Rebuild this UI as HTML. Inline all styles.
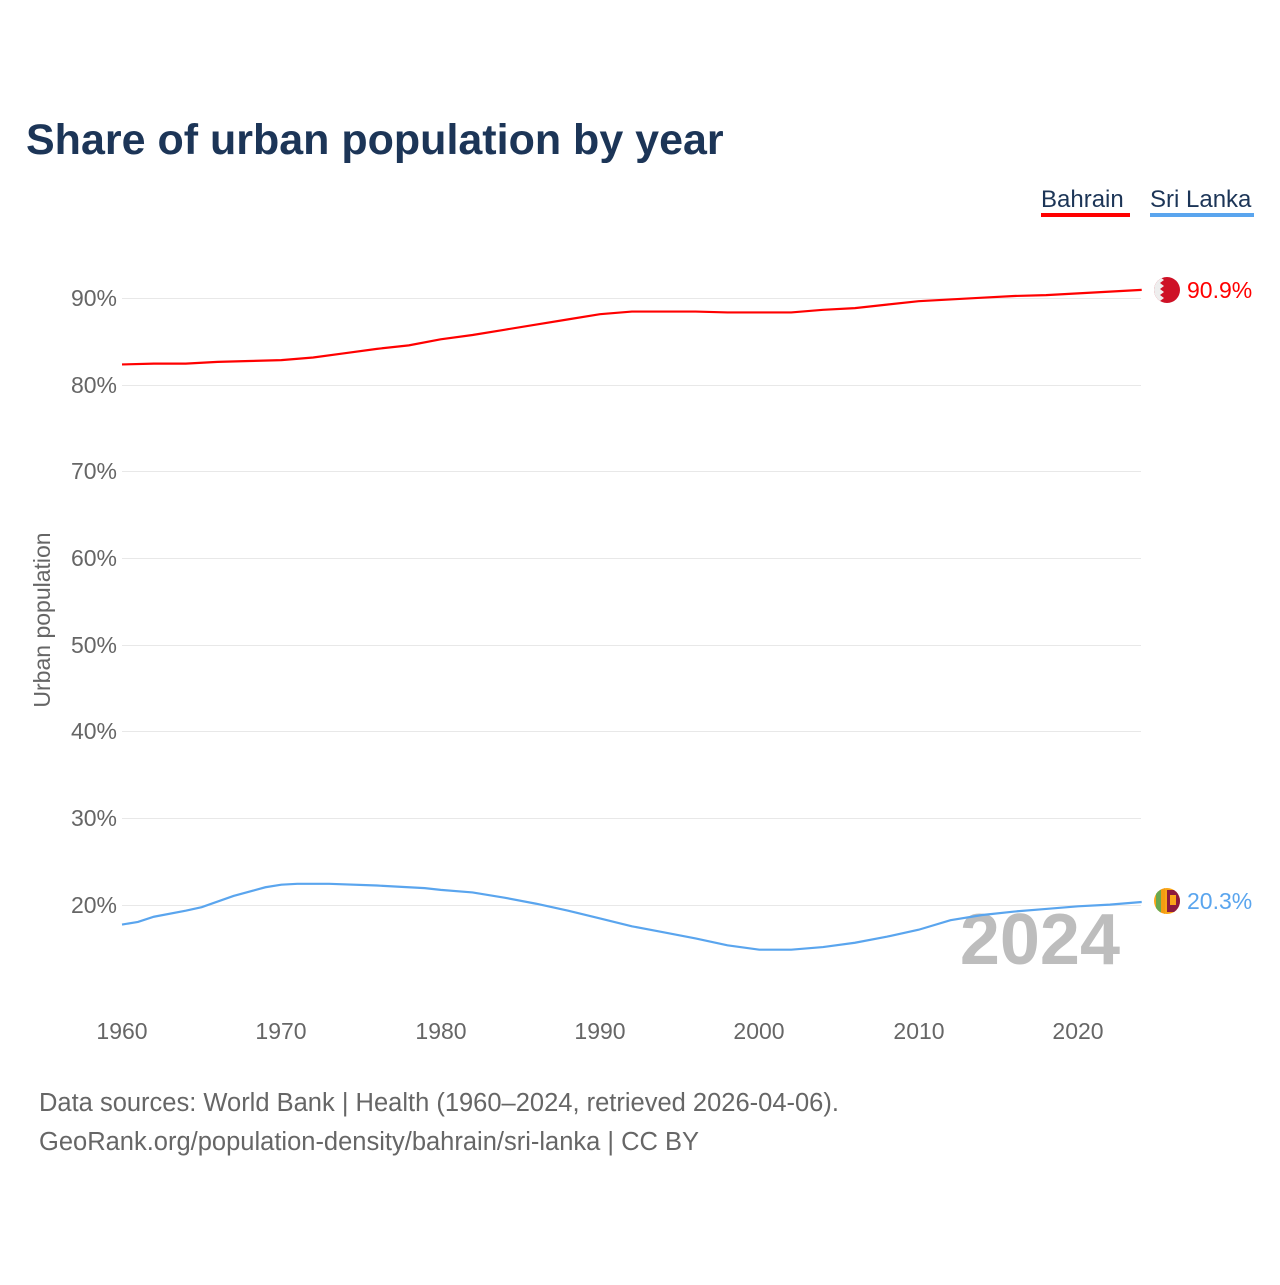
<!DOCTYPE html>
<html><head><meta charset="utf-8"><style>
body{margin:0;background:#fff;width:1280px;height:1280px;overflow:hidden;font-family:"Liberation Sans",sans-serif}
</style></head><body>
<svg width="1280" height="1280" xmlns="http://www.w3.org/2000/svg" font-family="Liberation Sans, sans-serif">
<text x="26" y="154" font-size="43" font-weight="bold" fill="#1c3557">Share of urban population by year</text>
<text x="1041" y="207" font-size="24" fill="#1c3557">Bahrain</text>
<rect x="1041" y="213" width="89" height="4" fill="#f00"/>
<text x="1150" y="207" font-size="24" fill="#1c3557">Sri Lanka</text>
<rect x="1150" y="213" width="104" height="4" fill="#5aa5ee"/>
<g stroke="#e8e8e8" stroke-width="1">
<line x1="122" x2="1141" y1="298.5" y2="298.5"/><line x1="122" x2="1141" y1="385.5" y2="385.5"/>
<line x1="122" x2="1141" y1="471.5" y2="471.5"/><line x1="122" x2="1141" y1="558.5" y2="558.5"/>
<line x1="122" x2="1141" y1="645.5" y2="645.5"/><line x1="122" x2="1141" y1="731.5" y2="731.5"/>
<line x1="122" x2="1141" y1="818.5" y2="818.5"/><line x1="122" x2="1141" y1="905.5" y2="905.5"/>
</g>
<g font-size="23" fill="#666" text-anchor="end">
<text x="117" y="306">90%</text><text x="117" y="393">80%</text><text x="117" y="479">70%</text>
<text x="117" y="566">60%</text><text x="117" y="653">50%</text><text x="117" y="739">40%</text>
<text x="117" y="826">30%</text><text x="117" y="913">20%</text>
</g>
<text transform="translate(50,620) rotate(-90)" font-size="23" fill="#666" text-anchor="middle">Urban population</text>
<g font-size="23" fill="#666" text-anchor="middle">
<text x="122" y="1039">1960</text><text x="281" y="1039">1970</text><text x="441" y="1039">1980</text>
<text x="600" y="1039">1990</text><text x="759" y="1039">2000</text><text x="919" y="1039">2010</text><text x="1078" y="1039">2020</text>
</g>
<text x="1120" y="964" font-size="72" font-weight="bold" fill="#bdbdbd" text-anchor="end">2024</text>
<g transform="translate(122,1078) scale(15.933,-8.67)" fill="none" stroke-width="2.2">
<polyline vector-effect="non-scaling-stroke" stroke="#f00" points="0,82.3 2,82.4 4,82.4 6,82.6 8,82.7 10,82.8 12,83.1 14,83.6 16,84.1 18,84.5 20,85.2 22,85.7 24,86.3 26,86.9 28,87.5 30,88.1 32,88.4 36,88.4 38,88.3 42,88.3 44,88.6 46,88.8 48,89.2 50,89.6 52,89.8 54,90.0 56,90.2 58,90.3 60,90.5 62,90.7 64,90.9"/>
<polyline vector-effect="non-scaling-stroke" stroke="#5aa5ee" points="0,17.7 1,18.0 2,18.6 4,19.3 5,19.7 7,21.0 9,22.0 10,22.3 11,22.4 13,22.4 16,22.2 19,21.9 20,21.7 22,21.4 24,20.8 26,20.1 28,19.3 30,18.4 32,17.5 34,16.8 36,16.1 38,15.3 40,14.8 42,14.8 44,15.1 46,15.6 48,16.3 50,17.1 52,18.2 54,18.8 56,19.2 58,19.5 60,19.8 62,20.0 64,20.3"/>
</g>
<defs>
<clipPath id="c1"><circle cx="1167" cy="290" r="13"/></clipPath>
<clipPath id="c2"><circle cx="1167" cy="901" r="13"/></clipPath>
</defs>
<g clip-path="url(#c1)">
<rect x="1154" y="277" width="26" height="26" fill="#ce1126"/>
<polygon points="1154,277 1160,277 1164,280 1160,283 1164,286 1160,289 1164,292 1160,295 1164,298 1160,301 1164,303 1154,303" fill="#eee"/>
</g>
<text x="1187" y="298" font-size="23" fill="#f00">90.9%</text>
<g clip-path="url(#c2)">
<rect x="1154" y="888" width="26" height="26" fill="#f9a619"/>
<rect x="1156" y="888" width="5" height="26" fill="#6aa84f"/>
<rect x="1161" y="888" width="4" height="26" fill="#f39c12"/>
<rect x="1167" y="890" width="13" height="22" fill="#8d1b3d"/>
<rect x="1170" y="895" width="6" height="10" fill="#f9a619"/>
</g>
<text x="1187" y="909" font-size="23" fill="#5aa5ee">20.3%</text>
<text x="39" y="1111" font-size="25.5" fill="#666">Data sources: World Bank | Health (1960–2024, retrieved 2026-04-06).</text>
<text x="39" y="1150" font-size="25.5" fill="#666">GeoRank.org/population-density/bahrain/sri-lanka | CC BY</text>
</svg>
</body></html>
